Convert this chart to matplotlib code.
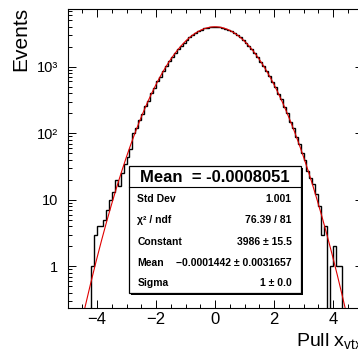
import numpy as np
import matplotlib.pyplot as plt
from matplotlib.patches import Rectangle
from matplotlib.ticker import FixedLocator, FixedFormatter, LogLocator, NullFormatter, MultipleLocator

plt.rcParams['font.family'] = ['Liberation Sans', 'DejaVu Sans']
plt.rcParams['mathtext.fontset'] = 'custom'
plt.rcParams['mathtext.rm'] = 'Liberation Sans'
plt.rcParams['mathtext.it'] = 'Liberation Sans'

# histogram: 100 bins of width 0.1 from -5 to 5
bin_edges = np.linspace(-5.0, 5.0, 101)
counts = [
    0, 0, 0, 0, 0, 0, 0, 0, 1, 3,
    4, 4, 5, 7, 10, 13, 20, 16, 25, 34,
    44, 58, 100, 118, 160, 195, 258, 310, 402, 480,
    601, 712, 870, 1011, 1206, 1384, 1610, 1818, 2066, 2290,
    2545, 2770, 3018, 3220, 3435, 3595, 3758, 3855, 3948, 3975,
    3988, 3935, 3870, 3742, 3610, 3418, 3236, 3001, 2785, 2530,
    2305, 2049, 1832, 1595, 1400, 1190, 1028, 855, 725, 590,
    492, 390, 322, 248, 201, 150, 122, 88, 70, 50,
    40, 27, 21, 17, 12, 8, 3, 4, 0, 1,
    2, 1, 1, 0, 0, 0, 0, 0, 0, 0,
]

# gaussian fit parameters (from the stats box)
fit_constant = 3986
fit_mean = -0.0001442
fit_sigma = 1.0

title_line = "Mean  = -0.0008051"
stat_names = ["Std Dev", "χ² / ndf", "Constant", "Mean", "Sigma"]
stat_values = ["1.001", "76.39 / 81", "3986 ± 15.5", "−0.0001442 ± 0.0031657", "1 ± 0.0"]

ytick_vals = [1, 10, 100, 1000]
ytick_labels = ["1", "10", "10²", "10³"]

W, H = 358, 353
fig = plt.figure(figsize=(W / 100, H / 100), dpi=100)
ax = fig.add_axes([67.5 / W, 1 - 308 / H, 295 / W, 298.7 / H])

vals = np.array(counts, dtype=float)
vals[vals <= 0] = 1e-3
ax.stairs(vals, bin_edges, color="black", lw=1.0, baseline=1e-3)

xf = np.linspace(-5, 5, 600)
yf = fit_constant * np.exp(-0.5 * ((xf - fit_mean) / fit_sigma) ** 2)
ax.plot(xf, yf, color="#e00000", lw=0.8)

ax.set_yscale("log")
ax.set_xlim(-5, 5)
ax.set_ylim(0.236, 7300)

ax.xaxis.set_major_locator(MultipleLocator(2))
ax.xaxis.set_minor_locator(MultipleLocator(0.5))
ax.yaxis.set_major_locator(FixedLocator(ytick_vals))
ax.yaxis.set_major_formatter(FixedFormatter(ytick_labels))
ax.yaxis.set_minor_locator(LogLocator(base=10, subs=np.arange(2, 10)))
ax.yaxis.set_minor_formatter(NullFormatter())

ax.tick_params(which="both", direction="in", top=True, right=True, width=0.7)
ax.tick_params(which="major", length=5.8)
ax.tick_params(which="minor", length=2.9)
ax.tick_params(axis="x", labelsize=12, pad=3)
ax.tick_params(axis="y", labelsize=10.5, pad=7)
for s in ax.spines.values():
    s.set_linewidth(0.8)

fig.text(20.5 / W, 1 - 7 / H, "Events", rotation=90, ha="center", va="top", fontsize=15)
fig.text(296.5 / W, 1 - 346 / H, r"Pull x$_{\rm vtx}$", ha="left", va="baseline", fontsize=14)

# stats box
bx0, bx1, by0, by1 = 129.3, 300.7, 166, 293.3
shadow = Rectangle((bx0 / W + 2 / W, 1 - by1 / H - 2 / H), (bx1 - bx0) / W, (by1 - by0) / H,
                   transform=fig.transFigure, facecolor="black", edgecolor="black", lw=0, zorder=5)
box = Rectangle((bx0 / W, 1 - by1 / H), (bx1 - bx0) / W, (by1 - by0) / H,
                transform=fig.transFigure, facecolor="white", edgecolor="black", lw=0.9, zorder=6)
fig.patches.extend([shadow, box])
fig.add_artist(plt.Line2D([bx0 / W, bx1 / W], [1 - 187 / H, 1 - 187 / H], color="black", lw=0.8,
                          transform=fig.transFigure, zorder=7))
fig.text((bx0 + bx1) / 2 / W, 1 - 176.5 / H, title_line, ha="center", va="center_baseline",
         fontsize=12, fontweight="bold", zorder=8)
row_y = [198.3, 219, 241, 261.7, 282.3]
for name, val, yy in zip(stat_names, stat_values, row_y):
    fig.text(137.3 / W, 1 - yy / H, name, ha="left", va="center_baseline", fontsize=7.5,
             fontweight="bold", zorder=8)
    fig.text(291.7 / W, 1 - yy / H, val, ha="right", va="center_baseline", fontsize=7.5,
             fontweight="bold", zorder=8)

fig.savefig("out.png", dpi=100)
